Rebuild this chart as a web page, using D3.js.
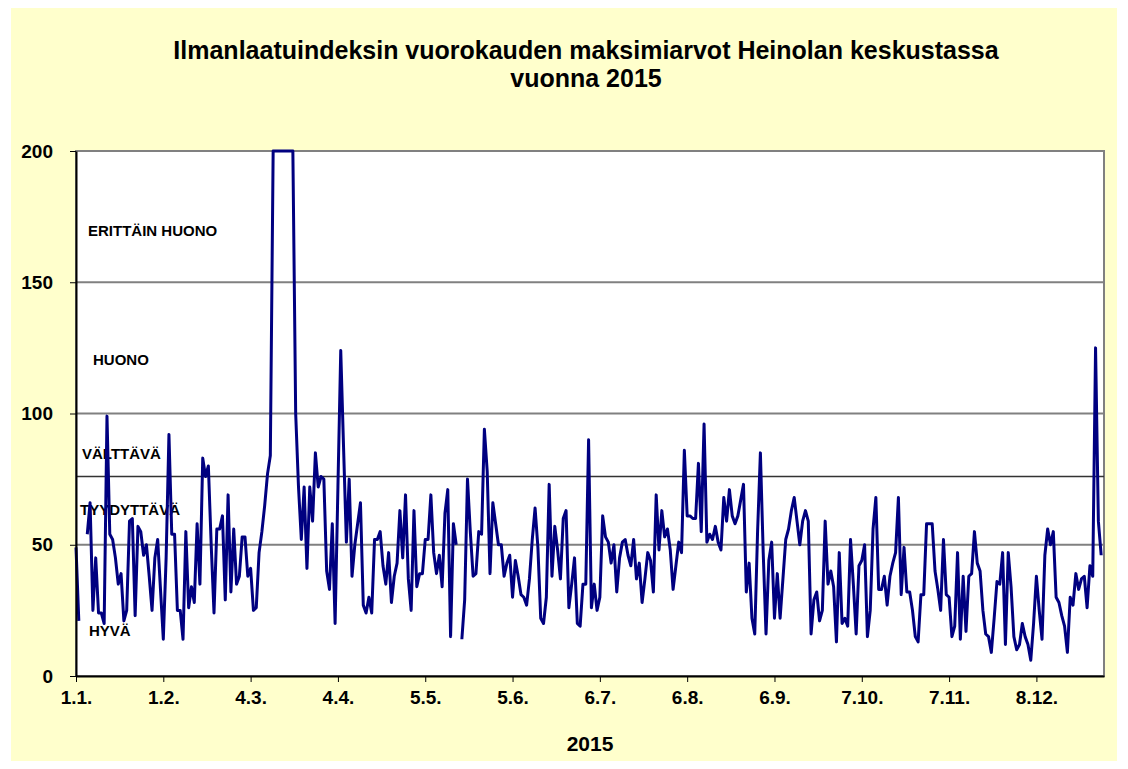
<!DOCTYPE html>
<html>
<head>
<meta charset="utf-8">
<script src="https://cdn.jsdelivr.net/npm/d3@7"></script>
<style>
  body { margin: 0; background: #ffffff; }
  svg text { font-family: Arial, "Liberation Sans", sans-serif; font-weight: bold; fill: #000; }
</style>
</head>
<body>
<div id="chart"></div>
<script>
document.addEventListener('DOMContentLoaded', init, false);

// daily max air quality index, 1.1.2015 - 31.12.2015 (null = no data)
var aqi = [
  49, 21, null, null, 54, 66, 25, 45, 24, 24,
  20, 99, 54, 52, 45, 35, 39, 21, 25, 59,
  60, 23, 57, 55, 46, 50, 38, 25, 45, 52,
  33, 14, 45, 92, 54, 54, 25, 25, 14, 55,
  26, 34, 28, 58, 35, 83, 76, 80, 50, 24,
  56, 56, 61, 29, 69, 32, 56, 35, 38, 53,
  53, 38, 41, 25, 26, 47, 55, 65, 77, 84,
  200, 200, 200, 200, 200, 200, 200, 200, 100, 72,
  52, 72, 41, 72, 59, 85, 72, 76, 75, 40,
  33, 58, 20, 72, 124, 87, 51, 75, 38, 50,
  58, 66, 27, 24, 30, 24, 52, 52, 55, 42,
  35, 47, 28, 38, 43, 63, 45, 69, 37, 25,
  63, 34, 39, 39, 52, 52, 69, 47, 39, 46,
  34, 62, 71, 15, 58, 50, null, 14, 29, 75,
  55, 38, 39, 55, 54, 94, 78, 39, 66, 58,
  50, 50, 38, 43, 46, 30, 44, 38, 31, 30,
  27, 37, 52, 64, 49, 22, 20, 30, 73, 38,
  57, 48, 37, 60, 63, 26, 35, 45, 20, 19,
  35, 35, 90, 26, 35, 25, 30, 61, 53, 51,
  43, 50, 32, 45, 51, 52, 46, 42, 52, 37,
  43, 28, 37, 47, 44, 32, 69, 48, 63, 53,
  56, 48, 33, 42, 51, 47, 86, 61, 61, 60,
  60, 81, 55, 96, 51, 54, 52, 57, 51, 48,
  68, 59, 71, 61, 58, 61, 67, 73, 32, 43,
  22, 16, 55, 85, 47, 16, 44, 51, 22, 39,
  22, 37, 52, 56, 63, 68, 59, 50, 59, 63,
  59, 16, 29, 32, 21, 25, 59, 35, 40, 34,
  13, 47, 20, 22, 19, 52, 35, 16, 42, 44,
  50, 15, 25, 56, 68, 33, 33, 38, 27, 38,
  43, 47, 68, 31, 49, 32, 32, 25, 15, 13,
  31, 31, 58, 58, 58, 40, 33, 25, 52, 31,
  30, 15, 19, 47, 14, 38, 17, 38, 39, 55,
  43, 40, 25, 16, 15, 9, 22, 36, 35, 47,
  12, 47, 34, 15, 10, 12, 20, 15, 12, 6,
  20, 38, 25, 14, 46, 56, 50, 55, 30, 28,
  23, 19, 9, 30, 27, 39, 33, 37, 38, 26,
  42, 38, 125, 59, 46
];

var tickDays = [0, 31, 62, 93, 124, 155, 186, 217, 248, 279, 310, 341];
var tickLabels = ['1.1.', '1.2.', '4.3.', '4.4.', '5.5.', '5.6.', '6.7.', '6.8.', '6.9.', '7.10.', '7.11.', '8.12.'];
var yTicks = [0, 50, 100, 150, 200];
var bandNames = ['HYVÄ', 'TYYDYTTÄVÄ', 'VÄLTTÄVÄ', 'HUONO', 'ERITTÄIN HUONO'];
var bandLimit = 76;

var titleLines = ['Ilmanlaatuindeksin vuorokauden maksimiarvot Heinolan keskustassa', 'vuonna 2015'];
var xTitle = '2015';

var width = 1128;
var height = 769;
var margin = { top: 151, right: 24, bottom: 93, left: 76 };
var plotW = width - margin.left - margin.right;
var plotH = height - margin.top - margin.bottom;

// where the band names sit (value on y axis, x offset from plot left)
var bandLabelPos = [
  { v: 15.2, dx: 13 },
  { v: 61.3, dx: 4 },
  { v: 82.7, dx: 6 },
  { v: 118.5, dx: 17 },
  { v: 167.6, dx: 12 }
];

function init() {

  var svg = d3.select('#chart')
    .append('svg')
      .attr('width', width)
      .attr('height', height);

  svg.append('rect')
    .attr('x', 11)
    .attr('y', 8)
    .attr('width', 1106)
    .attr('height', 753)
    .attr('fill', '#ffffcc');

  svg.selectAll('.title')
      .data(titleLines)
      .enter()
    .append('text')
      .attr('x', 586)
      .attr('y', function (d, i) { return 59 + i * 28; })
      .attr('text-anchor', 'middle')
      .style('font-size', '25px')
      .text(function (d) { return d; });

  var chart = svg.append('g')
    .attr('transform', 'translate(' + margin.left + ',' + margin.top + ')');

  var x = d3.scaleLinear().domain([0, 365]).range([0, plotW]);
  var y = d3.scaleLinear().domain([0, 200]).range([plotH, 0]);

  chart.append('rect')
    .attr('width', plotW)
    .attr('height', plotH)
    .attr('fill', '#ffffff')
    .attr('stroke', '#808080')
    .attr('stroke-width', 2);

  chart.append('g')
    .selectAll('line')
      .data(yTicks.slice(1))
      .enter()
    .append('line')
      .attr('x1', 0)
      .attr('x2', plotW)
      .attr('y1', function (d) { return y(d); })
      .attr('y2', function (d) { return y(d); })
      .attr('stroke', '#808080')
      .attr('stroke-width', 2);

  chart.append('line')
    .attr('x1', 0)
    .attr('x2', plotW)
    .attr('y1', y(bandLimit))
    .attr('y2', y(bandLimit))
    .attr('stroke', '#333333')
    .attr('stroke-width', 1.5);

  chart.selectAll('.band')
      .data(bandNames)
      .enter()
    .append('text')
      .attr('x', function (d, i) { return bandLabelPos[i].dx; })
      .attr('y', function (d, i) { return y(bandLabelPos[i].v); })
      .style('font-size', '15px')
      .text(function (d) { return d; });

  var line = d3.line()
    .defined(function (d) { return d != null; })
    .x(function (d, i) { return x(i); })
    .y(function (d) { return y(d); });

  chart.append('path')
    .datum(aqi)
    .attr('fill', 'none')
    .attr('stroke', '#000080')
    .attr('stroke-width', 3)
    .attr('stroke-linejoin', 'round')
    .attr('d', line);

  var xAxis = chart.append('g')
    .attr('transform', 'translate(0,' + plotH + ')')
    .call(d3.axisBottom(x)
      .tickValues(tickDays)
      .tickFormat(function (d, i) { return tickLabels[i]; })
      .tickSize(6)
      .tickSizeOuter(0));

  var yAxis = chart.append('g')
    .call(d3.axisLeft(y)
      .tickValues(yTicks)
      .tickSize(6)
      .tickSizeOuter(0));

  [xAxis, yAxis].forEach(function (a) {
    a.select('.domain').attr('stroke', '#000').attr('stroke-width', 2);
    a.selectAll('.tick line').attr('stroke', '#000').attr('stroke-width', 1);
    a.selectAll('.tick text')
      .style('font-family', 'Arial, "Liberation Sans", sans-serif')
      .style('font-weight', 'bold')
      .style('font-size', '19px');
  });

  xAxis.selectAll('.tick text').attr('y', 28).attr('dy', 0);
  yAxis.selectAll('.tick text').attr('x', -23);

  svg.append('text')
    .attr('x', margin.left + plotW / 2)
    .attr('y', 751)
    .attr('text-anchor', 'middle')
    .style('font-size', '21px')
    .text(xTitle);
}
</script>
</body>
</html>
